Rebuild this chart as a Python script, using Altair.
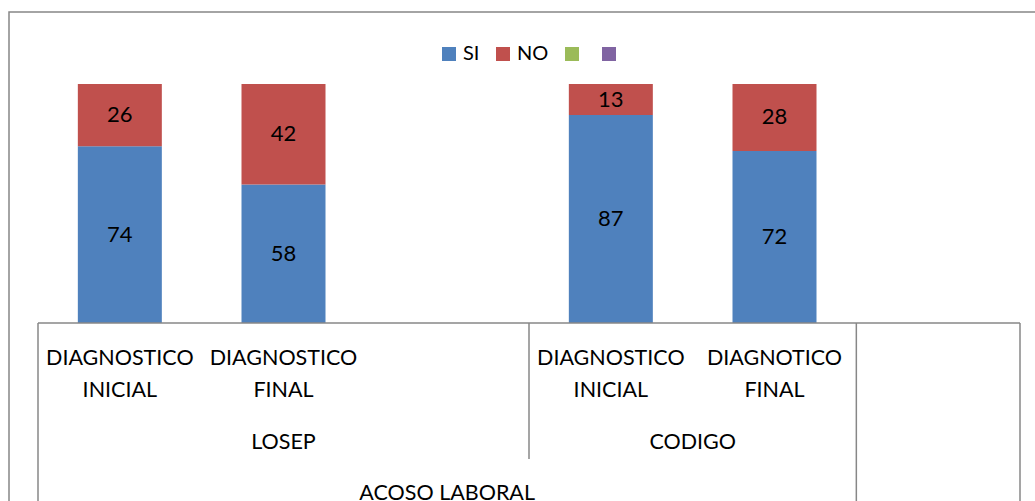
import altair as alt
import pandas as pd

# Series values (percent) per bar
series = ["SI", "NO"]
si_values = [74, 58, 87, 72]
no_values = [26, 42, 13, 28]

# Category slots along the axis (one slot per bar position, blanks included)
slot_labels = ["DIAGNOSTICO\nINICIAL", "DIAGNOSTICO\nFINAL", "",
               "DIAGNOSTICO\nINICIAL", "DIAGNOTICO\nFINAL", ""]
bar_slots = [0, 1, 3, 4]

# Second-level groups (slot ranges) and the outer group
groups = ["LOSEP", "CODIGO"]
group_start = [0, 3]
group_end = [3, 5]
outer_group = ["ACOSO LABORAL"]
outer_start = [0]
outer_end = [5]
n_slots = len(slot_labels)

legend_domain = ["SI", "NO", "Serie3", "Serie4"]
legend_colors = ["#4F81BD", "#C0504D", "#9BBB59", "#8064A2"]

FONT = "Lato"
GRID = "#878787"
LABEL_SIZE = 21.5

rows = []
for slot, s, n in zip(bar_slots, si_values, no_values):
    rows.append({"slot": slot + 0.5, "serie": "SI", "v": s, "y0": 0, "y1": s})
    rows.append({"slot": slot + 0.5, "serie": "NO", "v": n, "y0": s, "y1": s + n})
bars_df = pd.DataFrame(rows)

xs = alt.Scale(domain=[0, n_slots], nice=False, zero=False, padding=0)
ys = alt.Scale(domain=[0, 100], nice=False, padding=0)
color = alt.Color(
    "serie:N",
    scale=alt.Scale(domain=legend_domain, range=legend_colors),
    legend=alt.Legend(
        title=None, orient="none", direction="horizontal",
        legendX=401, legendY=-40,
        symbolType="square", symbolSize=196, symbolStrokeWidth=0,
        labelFont=FONT, labelFontSize=20, labelColor="black",
        labelOffset=4, columnPadding=13,
        labelExpr="datum.label == 'SI' || datum.label == 'NO' ? datum.label : ''",
    ),
)

frame = alt.Chart(pd.DataFrame({"k": [0]})).mark_rect(
    fill=None, stroke=GRID, strokeWidth=1.5
).encode(x=alt.value(-29), x2=alt.value(1020), y=alt.value(-72), y2=alt.value(440))

bars = alt.Chart(bars_df).mark_bar(size=84).encode(
    x=alt.X("slot:Q", scale=xs, axis=None),
    y=alt.Y("y0:Q", scale=ys, axis=None),
    y2="y1:Q",
    color=color,
)

values = alt.Chart(bars_df).transform_calculate(
    mid="(datum.y0 + datum.y1) / 2"
).mark_text(font=FONT, fontSize=22, color="black", baseline="middle").encode(
    x=alt.X("slot:Q", scale=xs),
    y=alt.Y("mid:Q", scale=ys),
    text="v:Q",
)

axis_line = alt.Chart(pd.DataFrame({"a": [0], "b": [n_slots], "y": [0]})).mark_rule(
    color=GRID, strokeWidth=1.5
).encode(x=alt.X("a:Q", scale=xs), x2="b:Q", y=alt.Y("y:Q", scale=ys))

# Separators spanning all label rows: axis ends and the outer group's end
full_seps = alt.Chart(pd.DataFrame({"x": [0, outer_end[0], n_slots]})).mark_rule(
    color=GRID, strokeWidth=1.5
).encode(x=alt.X("x:Q", scale=xs), y=alt.datum(0, scale=ys), y2=alt.value(440))

# Separators between second-level groups
grp_seps = alt.Chart(pd.DataFrame({"x": group_end[:-1]})).mark_rule(
    color=GRID, strokeWidth=1.5
).encode(x=alt.X("x:Q", scale=xs), y=alt.datum(0, scale=ys), y2=alt.value(375))

slot_df = pd.DataFrame({"slot": [i + 0.5 for i in range(n_slots)], "label": slot_labels})
slot_text = alt.Chart(slot_df).mark_text(
    font=FONT, fontSize=LABEL_SIZE, color="black", lineBreak="\n", lineHeight=31.5,
    baseline="middle"
).encode(x=alt.X("slot:Q", scale=xs), y=alt.value(275), text="label:N")

grp_df = pd.DataFrame({"name": groups, "s": group_start, "e": group_end})
grp_text = alt.Chart(grp_df).transform_calculate(
    c="(datum.s + datum.e) / 2"
).mark_text(font=FONT, fontSize=LABEL_SIZE, color="black", baseline="middle").encode(
    x=alt.X("c:Q", scale=xs), y=alt.value(359), text="name:N"
)

outer_df = pd.DataFrame({"name": outer_group, "s": outer_start, "e": outer_end})
outer_text = alt.Chart(outer_df).transform_calculate(
    c="(datum.s + datum.e) / 2"
).mark_text(font=FONT, fontSize=LABEL_SIZE, color="black", baseline="middle").encode(
    x=alt.X("c:Q", scale=xs), y=alt.value(410), text="name:N"
)

chart = alt.layer(
    frame, bars, values, axis_line, full_seps, grp_seps, slot_text, grp_text, outer_text
).properties(
    width=982, height=239,
    autosize=alt.AutoSizeParams(type="none"),
    padding={"left": 38, "top": 84, "right": 15, "bottom": 178},
    background="white",
).configure_view(stroke=None)

chart.save("out.html", embed_options={"renderer": "svg", "actions": False})
